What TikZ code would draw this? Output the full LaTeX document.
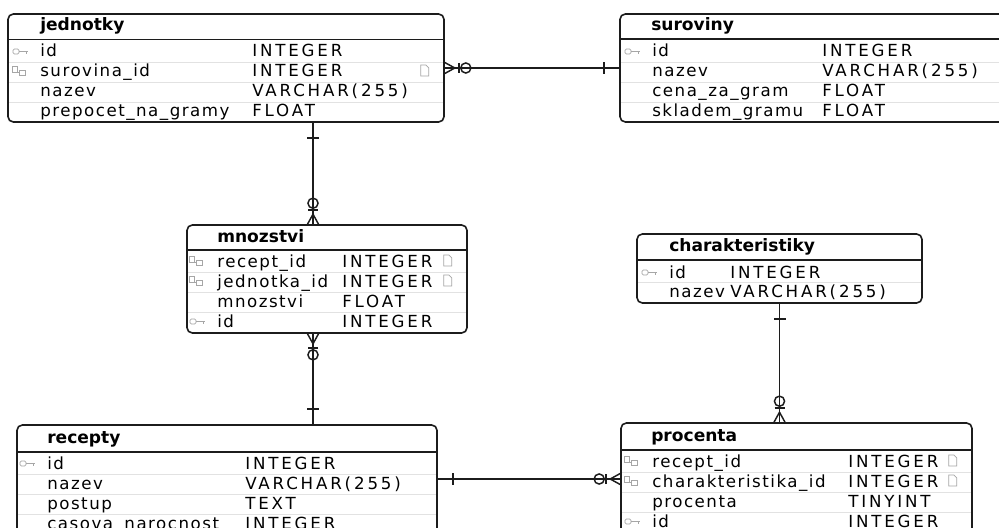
\documentclass[tikz,border=0pt]{standalone}
\usepackage{fontspec}
\setmainfont{DejaVu Sans}
\newfontfamily\colfont{DejaVu Sans}[LetterSpace=9]
\newfontfamily\typfont{DejaVu Sans}[LetterSpace=17]
\usetikzlibrary{positioning, fit, calc}
\definecolor{inkBlack}{HTML}{1C1C1C}
\definecolor{rowLine}{HTML}{E2E2E2}
\definecolor{iconGray}{HTML}{A6A6A6}

% cardinality marks, #1 = end point on the table, #2 = outward direction
\newcommand{\erone}[2]{\begin{scope}[shift={(#1)}, rotate=#2]
  \draw[rel] (15,-6) -- (15,6);
\end{scope}}
\newcommand{\ermany}[2]{\begin{scope}[shift={(#1)}, rotate=#2]
  \draw[rel] (0,-5.5) -- (10,0) -- (0,5.5);
  \draw[rel] (14,-5) -- (14,5);
  \draw[rel] (21,0) circle[radius=3.8pt];
\end{scope}}

% small column icons, #1 = base west of the column name
\newcommand{\keyicon}[1]{\begin{scope}[shift={(#1)}]
  \draw[icon, rounded corners=1pt] (-27,-8) rectangle (-21,-3);
  \draw[icon] (-21,-5.5) -- (-12,-5.5) (-14,-5.5) -- (-14,-3);
\end{scope}}
\newcommand{\fkicon}[1]{\begin{scope}[shift={(#1)}]
  \draw[icon] (-28,-11) rectangle (-23,-5);
  \draw[icon] (-21,-7) rectangle (-15,-2);
  \draw[icon] (-23,-5) -- (-21,-5);
\end{scope}}
\newcommand{\docicon}[1]{\begin{scope}[shift={(#1)}]
  \draw[icon] (-24,-1) -- (-24,-12) -- (-19,-12) -- (-16,-9) -- (-16,-1) -- cycle;
\end{scope}}

\begin{document}
\begin{tikzpicture}[
  x=0.75pt, y=-0.75pt,
  tbl/.style={draw=inkBlack, line width=1.2pt, rounded corners=4pt, fill=white, inner sep=0pt},
  hdline/.style={draw=inkBlack, line width=1.1pt},
  rowsep/.style={draw=rowLine, line width=0.6pt},
  thead/.style={anchor=base west, inner sep=0pt, text=black, font=\fontsize{12.8}{15}\selectfont\bfseries},
  fname/.style={anchor=base west, inner sep=0pt, text=black, font=\colfont\fontsize{12.5}{14}\selectfont},
  ftype/.style={anchor=base west, inner sep=0pt, text=black, font=\typfont\fontsize{12.5}{14}\selectfont},
  rel/.style={draw=inkBlack, line width=1.1pt},
  icon/.style={draw=iconGray, line width=0.5pt},
]
\useasboundingbox (0,0) rectangle (999,528);
\clip (0,0) rectangle (999,528);

% ===== jednotky =============================================================
\node[tbl, fit={(8,14) (444,122)}] (jed) {};
\node[thead] (jed-h) at (40,31) {jednotky};
\draw[hdline] (8,39.5) -- (444,39.5);
\foreach \y in {62,82,102} \draw[rowsep] (9,\y) -- (443,\y);
\foreach \y/\n/\t [count=\i] in {57/id/INTEGER, 77/surovina\_id/INTEGER,
    97/nazev/VARCHAR(255), 117/prepocet\_na\_gramy/FLOAT} {
  \node[fname] (jed-n\i) at (40,\y) {\n};
  \node[ftype] (jed-t\i) at (252,\y) {\t};
}
\keyicon{jed-n1.base west}
\fkicon{jed-n2.base west}
\docicon{jed.east |- jed-n2.base}

% ===== suroviny =============================================================
\node[tbl, fit={(620,14) (1012,122)}] (sur) {};
\node[thead] (sur-h) at (651,31) {suroviny};
\draw[hdline] (620,39) -- (1012,39);
\foreach \y in {62,82,102} \draw[rowsep] (621,\y) -- (1012,\y);
\foreach \y/\n/\t [count=\i] in {57/id/INTEGER, 77/nazev/VARCHAR(255),
    97/cena\_za\_gram/FLOAT, 117/skladem\_gramu/FLOAT} {
  \node[fname] (sur-n\i) at (652,\y) {\n};
  \node[ftype] (sur-t\i) at (822,\y) {\t};
}
\keyicon{sur-n1.base west}

% ===== mnozstvi =============================================================
\node[tbl, fit={(187,225) (467,333)}] (mnz) {};
\node[thead] (mnz-h) at (217,242) {mnozstvi};
\draw[hdline] (187,250) -- (467,250);
\foreach \y in {272,292,312} \draw[rowsep] (188,\y) -- (466,\y);
\foreach \y/\n/\t [count=\i] in {267/recept\_id/INTEGER, 287/jednotka\_id/INTEGER,
    307/mnozstvi/FLOAT, 327/id/INTEGER} {
  \node[fname] (mnz-n\i) at (217,\y) {\n};
  \node[ftype] (mnz-t\i) at (342,\y) {\t};
}
\fkicon{mnz-n1.base west}
\fkicon{mnz-n2.base west}
\keyicon{mnz-n4.base west}
\docicon{mnz.east |- mnz-n1.base}
\docicon{mnz.east |- mnz-n2.base}

% ===== charakteristiky ======================================================
\node[tbl, fit={(637,234) (922,303)}] (cha) {};
\node[thead] (cha-h) at (669,251) {charakteristiky};
\draw[hdline] (637,260) -- (922,260);
\draw[rowsep] (638,282) -- (921,282);
\foreach \y/\n/\t [count=\i] in {278/id/INTEGER, 297/nazev/VARCHAR(255)} {
  \node[fname] (cha-n\i) at (669,\y) {\n};
  \node[ftype] (cha-t\i) at (730,\y) {\t};
}
\keyicon{cha-n1.base west}

% ===== recepty ==============================================================
\node[tbl, fit={(17,425) (437,545)}] (rec) {};
\node[thead] (rec-h) at (47,443) {recepty};
\draw[hdline] (17,452) -- (437,452);
\foreach \y in {474,494,514} \draw[rowsep] (18,\y) -- (436,\y);
\foreach \y/\n/\t [count=\i] in {469/id/INTEGER, 489/nazev/VARCHAR(255),
    509/postup/TEXT, 529/casova\_narocnost/INTEGER} {
  \node[fname] (rec-n\i) at (47,\y) {\n};
  \node[ftype] (rec-t\i) at (245,\y) {\t};
}
\keyicon{rec-n1.base west}

% ===== procenta =============================================================
\node[tbl, fit={(621,423) (972,545)}] (pro) {};
\node[thead] (pro-h) at (651,441) {procenta};
\draw[hdline] (621,450) -- (972,450);
\foreach \y in {472,492,512} \draw[rowsep] (622,\y) -- (971,\y);
\foreach \y/\n/\t [count=\i] in {467/recept\_id/INTEGER, 487/charakteristika\_id/INTEGER,
    507/procenta/TINYINT, 527/id/INTEGER} {
  \node[fname] (pro-n\i) at (652,\y) {\n};
  \node[ftype] (pro-t\i) at (848,\y) {\t};
}
\fkicon{pro-n1.base west}
\fkicon{pro-n2.base west}
\keyicon{pro-n4.base west}
\docicon{pro.east |- pro-n1.base}
\docicon{pro.east |- pro-n2.base}

% ===== relations ============================================================
\coordinate (js) at (0,68);
\coordinate (jm) at (313,0);
\coordinate (rp) at (0,479);

\draw[rel] (jed.east |- js) -- (sur.west |- js);
\ermany{jed.east |- js}{0}
\erone{sur.west |- js}{180}

\draw[rel] (jed.south -| jm) -- (mnz.north -| jm);
\erone{jed.south -| jm}{-90}
\ermany{mnz.north -| jm}{90}

\draw[rel] (mnz.south -| jm) -- (rec.north -| jm);
\ermany{mnz.south -| jm}{-90}
\erone{rec.north -| jm}{90}

\draw[rel] (rec.east |- rp) -- (pro.west |- rp);
\erone{rec.east |- rp}{0}
\ermany{pro.west |- rp}{180}

\draw[rel] (cha.south) -- (pro.north -| cha.south);
\erone{cha.south}{-90}
\ermany{pro.north -| cha.south}{90}

\end{tikzpicture}
\end{document}
